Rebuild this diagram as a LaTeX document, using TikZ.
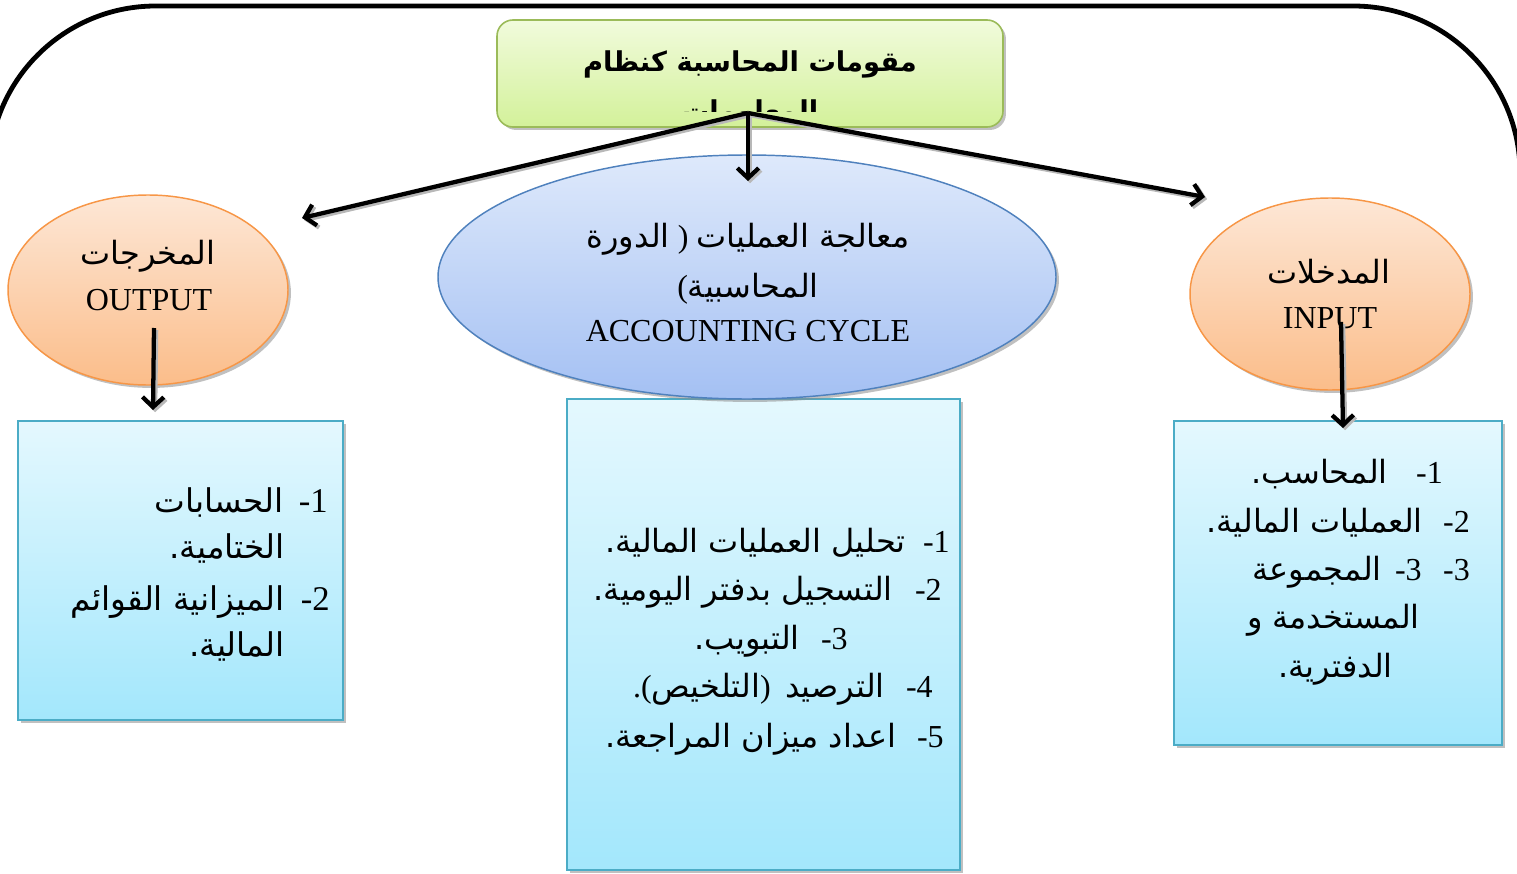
\documentclass[tikz,border=0pt]{standalone}
\usepackage{fontspec}
\setmainfont{Liberation Serif}
\newfontfamily\arabicfont[Script=Arabic]{DejaVu Sans}
\TeXXeTstate=1
\usetikzlibrary{shapes.geometric,shadows,arrows.meta}
\newcommand\AR[1]{{\arabicfont\beginR #1\endR}}
\definecolor{titletop}{HTML}{F1FBDC}
\definecolor{titlebot}{HTML}{D3F19A}
\definecolor{titleline}{HTML}{9BBB59}
\definecolor{orgtop}{HTML}{FDE7D6}
\definecolor{orgbot}{HTML}{FBBD8A}
\definecolor{orgline}{HTML}{F79646}
\definecolor{blutop}{HTML}{DEE9FB}
\definecolor{blubot}{HTML}{A4C0F3}
\definecolor{bluline}{HTML}{4F81BD}
\definecolor{boxtop}{HTML}{E4F8FE}
\definecolor{boxbot}{HTML}{A3E7FC}
\definecolor{boxline}{HTML}{4BACC6}
\tikzset{
  shad/.style={drop shadow={shadow xshift=2.2pt,shadow yshift=-2.2pt,fill=black!45,opacity=0.55}},
  titlebox/.style={draw=titleline,line width=1.2pt,rounded corners=12pt,top color=titletop,bottom color=titlebot,shad,inner sep=0},
  orgell/.style={ellipse,draw=orgline,line width=1.1pt,top color=orgtop,bottom color=orgbot,shad,inner sep=0},
  bluell/.style={ellipse,draw=bluline,line width=1.1pt,top color=blutop,bottom color=blubot,shad,inner sep=0},
  listbox/.style={rectangle,draw=boxline,line width=1.3pt,top color=boxtop,bottom color=boxbot,shad,inner sep=0},
  txt/.style={inner sep=0,font=\fontsize{24}{28}\selectfont},
  btxt/.style={inner sep=0,font=\fontsize{24.5}{30}\selectfont},
  wtxt/.style={inner sep=0,font=\fontsize{26}{30}\selectfont},
  ttxt/.style={inner sep=0,font=\fontsize{20.5}{26}\selectfont\bfseries},
  arr/.style={line width=3.2pt,-{Straight Barb[length=7.5pt,width=16pt]}},
  arrsh/.style={arr,draw=black!28,transform canvas={xshift=1.6pt,yshift=-1.6pt}},
  frame/.style={line width=3.6pt,rounded corners=125pt}
}
\begin{document}
\begin{tikzpicture}[x=0.75pt,y=-0.75pt]
\useasboundingbox (0,0) rectangle (1517,874);
\clip (0,0) rectangle (1517,874);
% outer frame
\draw[frame] (-11,1100) -- (-11,6) -- (1520,6) -- (1520,1100);
% title
\node[titlebox,minimum width=379.5pt,minimum height=80.25pt] (title) at (750,73.5) {};
\begin{scope}
  \clip (497,20) rectangle (1003,111);
  \node[ttxt,anchor=base] (t1) at (750,72) {\AR{مقومات المحاسبة كنظام}};
  \node[ttxt,anchor=base] (t2) at (750,121) {\AR{المعلومات}};
\end{scope}
% boxes
\node[listbox,minimum width=243.75pt,minimum height=224.25pt] (outB) at (180.5,570.5) {};
\node[listbox,minimum width=294.75pt,minimum height=353.25pt] (cycB) at (763.5,634.5) {};
\node[listbox,minimum width=246pt,minimum height=243pt] (inB) at (1338,583) {};
% ellipses
\node[orgell,minimum width=210pt,minimum height=142.5pt] (outE) at (148,290) {};
\node[bluell,minimum width=463.5pt,minimum height=183pt] (cycE) at (747,277) {};
\node[orgell,minimum width=210pt,minimum height=144pt] (inE) at (1330,294) {};
% ellipse texts
\node[txt,anchor=base] (oa) at (148,264) {\AR{المخرجات}};
\node[txt,anchor=base] (ob) at (149,310) {OUTPUT};
\node[txt,anchor=base] (ia) at (1329,283) {\AR{المدخلات}};
\node[txt,anchor=base] (ib) at (1330,328) {INPUT};
\node[txt,anchor=base] (ca) at (748,247) {\AR{الدورة} ) \AR{معالجة العمليات}};
\node[txt,anchor=base] (cb) at (748,297) {(\AR{المحاسبية}};
\node[txt,anchor=base] (cc) at (748,341) {ACCOUNTING CYCLE};
% left box list
\node[wtxt,anchor=base east] (l1n) at (328,512) {-1};
\node[btxt,anchor=base east] (l1a) at (284,512) {\AR{الحسابات}};
\node[btxt,anchor=base east] (l2a) at (285,558) {\AR{الختامية.}};
\node[wtxt,anchor=base east] (l3n) at (330,610) {-2};
\node[btxt,anchor=base east] (l3a) at (285,610) {\AR{الميزانية القوائم}};
\node[btxt,anchor=base east] (l4a) at (285,656) {\AR{المالية.}};
% middle box list
\node[txt,anchor=base east] (m1n) at (950,552) {-1};
\node[txt,anchor=base east] (m1a) at (906,552) {\AR{تحليل العمليات المالية.}};
\node[txt,anchor=base east] (m2n) at (942,600) {-2};
\node[txt,anchor=base east] (m2a) at (893,600) {\AR{التسجيل بدفتر اليومية.}};
\node[txt,anchor=base east] (m3n) at (848,649) {-3};
\node[txt,anchor=base east] (m3a) at (800,649) {\AR{التبويب.}};
\node[txt,anchor=base east] (m4n) at (933,697) {-4};
\node[txt,anchor=base east] (m4a) at (885,697) {.(\AR{التلخيص})\hspace{0.45em}\AR{الترصيد}};
\node[txt,anchor=base east] (m5n) at (944,747) {-5};
\node[txt,anchor=base east] (m5a) at (897,747) {\AR{اعداد ميزان المراجعة.}};
% right box list
\node[txt,anchor=base east] (r1n) at (1443,483) {-1};
\node[txt,anchor=base east] (r1a) at (1388,483) {\AR{المحاسب.}};
\node[txt,anchor=base east] (r2n) at (1470,532) {-2};
\node[txt,anchor=base east] (r2a) at (1423,532) {\AR{العمليات المالية.}};
\node[txt,anchor=base east] (r3n) at (1470,580) {-3};
\node[txt,anchor=base east] (r3m) at (1422,580) {-3};
\node[txt,anchor=base east] (r3a) at (1382,580) {\AR{المجموعة}};
\node[txt,anchor=base east] (r4a) at (1420,628) {\AR{المستخدمة و}};
\node[txt,anchor=base east] (r5a) at (1393,677) {\AR{الدفترية.}};
% connectors
\coordinate (hub) at (748,113);
\coordinate (outEnd) at (302,218);
\coordinate (cycEnd) at (748,181);
\coordinate (inEnd) at (1205,197);
\coordinate (outS) at (154,328);
\coordinate (outT) at (153,410);
\coordinate (inS) at (1341,322);
\coordinate (inT) at (1343,428);
\draw[arrsh] (hub) -- (outEnd);
\draw[arrsh] (hub) -- (cycEnd);
\draw[arrsh] (hub) -- (inEnd);
\draw[arrsh] (outS) -- (outT);
\draw[arrsh] (inS) -- (inT);
\draw[arr] (hub) -- (outEnd);
\draw[arr] (hub) -- (cycEnd);
\draw[arr] (hub) -- (inEnd);
\draw[arr] (outS) -- (outT);
\draw[arr] (inS) -- (inT);
\end{tikzpicture}
\end{document}
